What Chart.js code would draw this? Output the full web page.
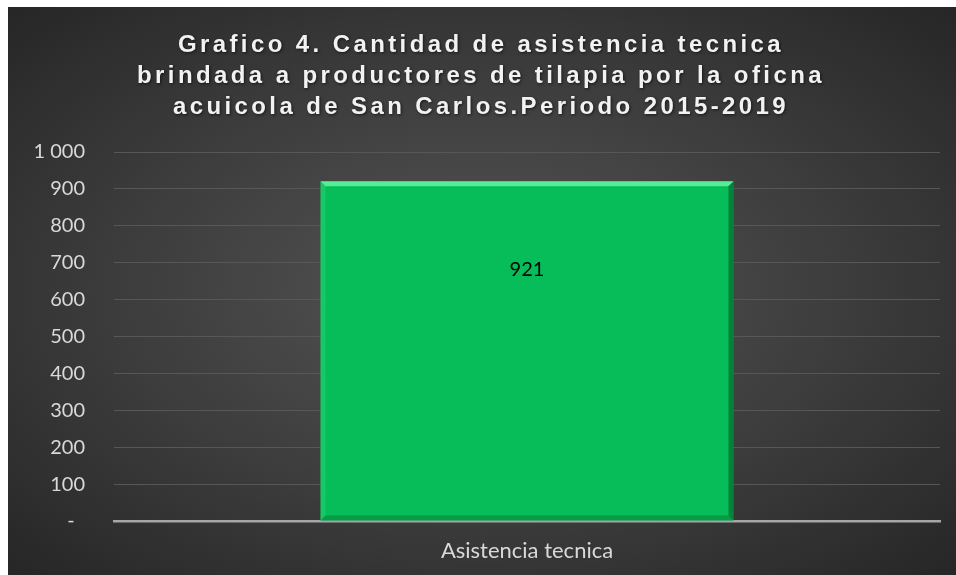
<!DOCTYPE html>
<html>
<head>
<meta charset="utf-8">
<script src="https://cdn.jsdelivr.net/npm/chart.js@4/dist/chart.umd.min.js"></script>
<style>
  html, body { margin: 0; padding: 0; background: #fff; }
  #wrap {
    position: absolute; left: 8px; top: 7px; width: 948px; height: 568px;
    background: radial-gradient(ellipse farthest-corner at 50% 50%, #555555 0%, #3c3c3c 55%, #262626 100%);
  }
  canvas { display: block; }
</style>
</head>
<body>
<div id="wrap"><canvas id="canvas-1" width="948" height="568"></canvas></div>
<script>
'use strict';

var categories = ['Asistencia tecnica'];
var values = [921];
var yTicks = [0, 100, 200, 300, 400, 500, 600, 700, 800, 900, 1000];
var titleLines = [
  'Grafico 4. Cantidad de asistencia tecnica',
  'brindada a productores de tilapia por la oficna',
  'acuicola de San Carlos.Periodo 2015-2019'
];

var fmt = function(v){
  if (v === 0) return '-  ';
  return String(v).replace(/\B(?=(\d{3})+(?!\d))/g, ' ');
};

// title with letter spacing, drawn on the canvas
var titlePlugin = {
  id: 'spacedTitle',
  afterDraw: function(chart){
    var ctx = chart.ctx;
    ctx.save();
    ctx.font = 'bold 24px "Liberation Sans", Arial, sans-serif';
    ctx.letterSpacing = '3.4px';
    ctx.fillStyle = '#f2f2f2';
    ctx.textAlign = 'center';
    ctx.textBaseline = 'alphabetic';
    ctx.shadowColor = 'rgba(0,0,0,0.6)';
    ctx.shadowBlur = 3;
    ctx.shadowOffsetX = 1;
    ctx.shadowOffsetY = 1;
    titleLines.forEach(function(t, i){
      ctx.fillText(t, chart.width / 2 - 1, 45 + i * 31);
    });
    ctx.restore();
  }
};

// bevel edges + value label
var bevelPlugin = {
  id: 'bevel',
  afterDatasetsDraw: function(chart){
    var ctx = chart.ctx;
    chart.getDatasetMeta(0).data.forEach(function(bar, i){
      var l = bar.x - bar.width / 2, r = bar.x + bar.width / 2;
      var t = bar.y, b = bar.base, d = 5;
      ctx.save();
      ctx.fillStyle = 'rgba(110,255,170,0.75)';
      ctx.beginPath();
      ctx.moveTo(l, t); ctx.lineTo(r, t); ctx.lineTo(r - d, t + d); ctx.lineTo(l + d, t + d);
      ctx.fill();
      ctx.fillStyle = 'rgba(80,230,140,0.25)';
      ctx.beginPath();
      ctx.moveTo(l, t); ctx.lineTo(l + d, t + d); ctx.lineTo(l + d, b - d); ctx.lineTo(l, b);
      ctx.fill();
      ctx.fillStyle = 'rgba(0,60,20,0.45)';
      ctx.beginPath();
      ctx.moveTo(r, t); ctx.lineTo(r, b); ctx.lineTo(r - d, b - d); ctx.lineTo(r - d, t + d);
      ctx.fill();
      ctx.fillStyle = 'rgba(0,60,20,0.25)';
      ctx.beginPath();
      ctx.moveTo(l, b); ctx.lineTo(r, b); ctx.lineTo(r - d, b - d); ctx.lineTo(l + d, b - d);
      ctx.fill();

      ctx.fillStyle = '#000';
      ctx.font = '20px Lato, "Open Sans", sans-serif';
      ctx.textAlign = 'center';
      ctx.textBaseline = 'middle';
      ctx.fillText(String(values[i]), bar.x, t + 88);
      ctx.restore();
    });
  }
};

var ctx = document.getElementById('canvas-1');
var chart = new Chart(ctx, {
  type: 'bar',
  data: {
    labels: categories,
    datasets: [{
      data: values,
      backgroundColor: '#06bd59',
      borderWidth: 0,
      categoryPercentage: 1,
      barPercentage: 0.5
    }]
  },
  options: {
    responsive: false,
    animation: false,
    layout: { padding: { top: 145, right: 16, left: 0, bottom: 0 } },
    plugins: {
      legend: { display: false },
      tooltip: { enabled: false },
      title: { display: false }
    },
    scales: {
      x: {
        grid: { display: false, drawTicks: false },
        border: { display: true, color: '#a6a6a6', width: 2.5 },
        ticks: { color: '#d9d9d9', padding: 17, font: { family: 'Lato, "Open Sans", sans-serif', size: 22 } },
        afterFit: function(s){ s.height = 54; }
      },
      y: {
        min: 0,
        max: 1000,
        afterBuildTicks: function(s){ s.ticks = yTicks.map(function(v){ return { value: v }; }); },
        grid: { color: '#575757', lineWidth: 1, drawTicks: false },
        border: { display: false },
        ticks: {
          color: '#d9d9d9',
          padding: 29,
          font: { family: 'Lato, "Open Sans", sans-serif', size: 20 },
          callback: function(v){ return fmt(v); }
        },
        afterFit: function(s){ s.width = 106; }
      }
    }
  },
  plugins: [titlePlugin, bevelPlugin]
});
</script>
</body>
</html>
